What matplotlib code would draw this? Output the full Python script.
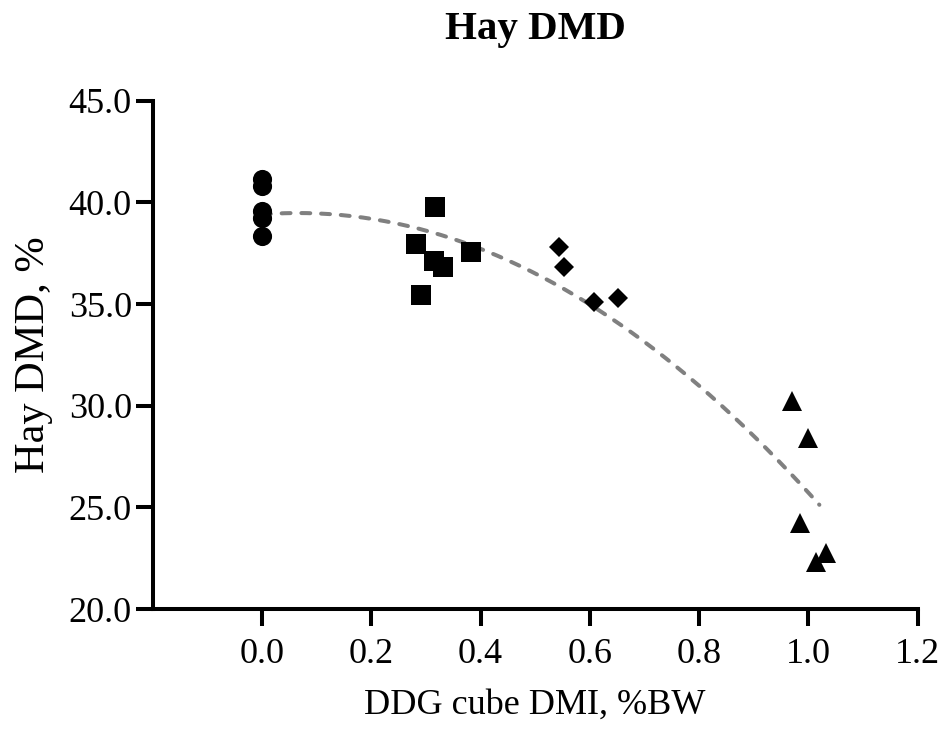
import numpy as np
import matplotlib
matplotlib.use('Agg')
import matplotlib.pyplot as plt

plt.rcParams['font.family'] = ['Liberation Serif', 'DejaVu Serif']

# DDG cube DMI (%BW) and hay DMD (%) per group
x_circle = [0.0, 0.0, 0.0, 0.0, 0.0]
y_circle = [41.16, 40.82, 39.57, 39.22, 38.37]

x_square = [0.317, 0.282, 0.314, 0.332, 0.382, 0.291]
y_square = [39.76, 37.95, 37.13, 36.81, 37.54, 35.46]

x_diamond = [0.543, 0.552, 0.608, 0.652]
y_diamond = [37.79, 36.83, 35.11, 35.31]

x_triangle = [0.970, 1.000, 0.984, 1.033, 1.014]
y_triangle = [30.24, 28.39, 24.24, 22.77, 22.31]

xticks = [0.0, 0.2, 0.4, 0.6, 0.8, 1.0, 1.2]
yticks = [20, 25, 30, 35, 40, 45]

fig = plt.figure(figsize=(9.47, 7.32), dpi=100)
ax = fig.add_axes([0.1612, 0.168, 0.8079, 0.6944])

# quadratic fit through all points (dashed grey line)
all_x = np.array(x_circle + x_square + x_diamond + x_triangle)
all_y = np.array(y_circle + y_square + y_diamond + y_triangle)
coef = np.polyfit(all_x, all_y, 2)
xf = np.linspace(0.0, 1.02, 200)
ax.plot(xf, np.polyval(coef, xf), color='#808080', lw=2.9, dashes=(2.2, 2.7),
        dash_capstyle='round', zorder=1)

ax.plot(x_circle, y_circle, 'o', color='black', ms=13.8, mew=0, zorder=3)
ax.plot(x_square, y_square, 's', color='black', ms=14.4, mew=0, zorder=3)
ax.plot(x_diamond, y_diamond, 'D', color='black', ms=9.7, mew=0, zorder=3)
ax.plot(x_triangle, y_triangle, '^', color='black', ms=14, mew=0, zorder=3)

ax.set_xlim(-0.2, 1.2)
ax.set_ylim(20, 45)
ax.set_xticks(xticks)
ax.set_xticklabels([f'{v:.1f}' for v in xticks])
ax.set_yticks(yticks)
ax.set_yticklabels([f'{v:.1f}' for v in yticks])

for s in ['top', 'right']:
    ax.spines[s].set_visible(False)
for s in ['left', 'bottom']:
    ax.spines[s].set_linewidth(2.9)
    ax.spines[s].set_capstyle('projecting')

ax.tick_params(axis='both', direction='out', length=12, width=2.9,
               labelsize=26, colors='black')
ax.tick_params(axis='x', pad=9)
ax.tick_params(axis='y', pad=3)

fig.text(535 / 947, 1 - 39 / 732, 'Hay DMD', fontsize=29.5, fontweight='bold',
         ha='center', va='baseline')
fig.text(535 / 947, 1 - 714 / 732, 'DDG cube DMI, %BW', fontsize=26,
         ha='center', va='baseline')
fig.text(34 / 947, 1 - 355 / 732, 'Hay DMD, %', fontsize=30.5, rotation=90,
         ha='center', va='center')

fig.savefig('out.png', dpi=100)
